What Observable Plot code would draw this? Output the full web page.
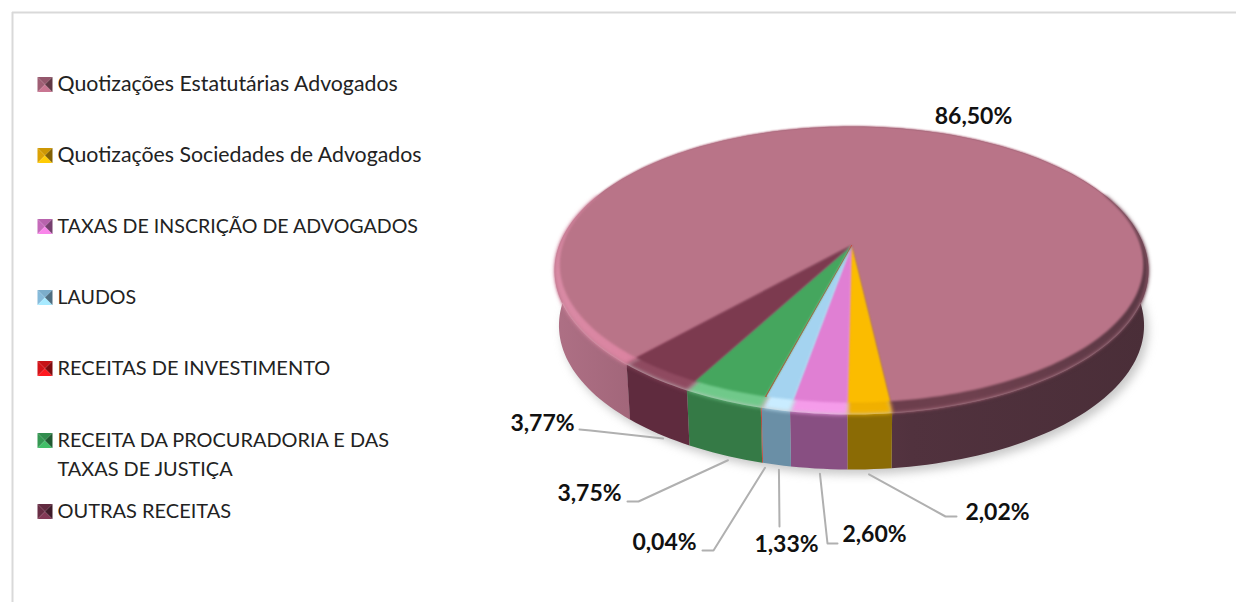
<!DOCTYPE html>
<html lang="pt">
<head>
<meta charset="utf-8">
<title>Receitas</title>
<script src="https://cdn.jsdelivr.net/npm/d3@7"></script>
<script src="https://cdn.jsdelivr.net/npm/@observablehq/plot@0.6"></script>
<style>
  html, body { margin: 0; padding: 0; background: #fff; }
  svg { display: block; }
</style>
</head>
<body>
<div id="chart"></div>
<script>
// Revenue categories and their shares, in percent
const categories = [
  "Quotizações Estatutárias Advogados",
  "Quotizações Sociedades de Advogados",
  "TAXAS DE INSCRIÇÃO DE ADVOGADOS",
  "LAUDOS",
  "RECEITAS DE INVESTIMENTO",
  "RECEITA DA PROCURADORIA E DAS TAXAS DE JUSTIÇA",
  "OUTRAS RECEITAS"
];
const shares = [86.5, 2.02, 2.6, 1.33, 0.04, 3.75, 3.77];
const shareLabels = ["86,50%", "2,02%", "2,60%", "1,33%", "0,04%", "3,75%", "3,77%"];

// Slice colours: top face, rounded rim, side wall
const topColors  = ["#b97488", "#fbbc00", "#e07fd3", "#a4d3f0", "#e8281e", "#45a65e", "#7c3a4f"];
const rimColors  = ["url(#rimRose)", "#f0b000", "#f59cea", "#c9ecff", "#e8281e", "#70c98a", "#8f4a60"];
const sideColors = ["url(#sideRose)", "#8b6b05", "#884f82", "#6a8fa6", "#c0392b", "#357a46", "#5f2b3e"];

// Legend rows: vertical centre of each swatch, the lines of its text, their size and baseline shift
const legendRows = [84, 155, 226, 297, 368, 440, 511];
const legendLines = [
  [categories[0]], [categories[1]], [categories[2]], [categories[3]], [categories[4]],
  ["RECEITA DA PROCURADORIA E DAS", "TAXAS DE JUSTIÇA"], [categories[6]]
];
const legendSizes = [21.3, 21.3, 19.6, 19.6, 20, 19.9, 20];
const legendShift = [-0.5, -0.5, 0.5, 0.5, 0.5, 0.5, 0.5];

// Value labels: text anchor and the elbow of the leader line
const labelSpots = [
  {x: 973, y: 116, elbow: null},
  {x: 997, y: 512, elbow: [[956, 516], [945, 516]]},
  {x: 874, y: 534, elbow: [[837, 543], [827, 543]]},
  {x: 786, y: 544, elbow: [[779, 526]]},
  {x: 664, y: 542, elbow: [[702, 550], [713, 550]]},
  {x: 589, y: 493, elbow: [[627, 501], [638, 501]]},
  {x: 542, y: 423, elbow: [[579, 429], [590, 430]]}
];

// Perspective disc: a turn angle measured from the front of the pie maps to the page
const cx = 851, apexY = 245;
const disc = (R, B, k, dy = 0, scale = 1) => (deg) => {
  const a = deg * Math.PI / 180, v = Math.cos(a), u = Math.sin(a), w = 1 - k * v;
  return {x: cx + scale * R * u / w, y: apexY + dy + B * v / w};
};
const inner = disc(289, 135.4, 0.138);
const outer = disc(292.5, 139.7, 0.1736);
const floor = disc(292.5, 139.7, 0.1736, 55, 0.985);

// Slices run clockwise seen from above: the large one wraps round the back of the pie,
// the rest follow it across the front, right to left
const firstEdge = 6.6;
const slices = shares.map((s, i) => {
  if (i === 0) return {i, a0: firstEdge, a1: firstEdge + s * 3.6, mid: firstEdge + s * 1.8};
  const a1 = firstEdge - 3.6 * d3.sum(shares.slice(1, i));
  const a0 = a1 - s * 3.6;
  return {i, a0, a1, mid: (a0 + a1) / 2};
});

const arcAngles = (a0, a1) => {
  const n = Math.max(2, Math.ceil(Math.abs(a1 - a0) / 1.5));
  return d3.range(n + 1).map((j) => a0 + (a1 - a0) * j / n);
};
const sector = (s, map) => [{x: cx, y: apexY}, ...arcAngles(s.a0, s.a1).map(map)];
const wall = (s) => [...arcAngles(s.a0, s.a1).map(outer), ...arcAngles(s.a0, s.a1).reverse().map(floor)];
const poly = (pts, fill, extra = {}) => Plot.line(pts, {x: "x", y: "y", fill, stroke: "none", curve: "linear", ...extra});

// The rounded rim only catches the eye along the front of the pie; round the back
// the large slice keeps its top colour
const backStart = 112, backEnd = 248;
const large = slices[0];
const rimParts = [
  {a0: large.a0, a1: backStart, fill: rimColors[0]},
  {a0: backEnd, a1: large.a1, fill: rimColors[0]},
  ...slices.slice(1).map((s) => ({a0: s.a0, a1: s.a1, fill: rimColors[s.i]}))
];

// Gradients for the large slice: pale on the left of the wall, dark on the right
const gradients = () => {
  const defs = d3.create("svg:defs");
  const add = (id, stops) => {
    const g = defs.append("linearGradient").attr("id", id).attr("gradientUnits", "userSpaceOnUse")
      .attr("x1", 554).attr("x2", 1149).attr("y1", 0).attr("y2", 0);
    stops.forEach(([o, c]) => g.append("stop").attr("offset", o).attr("stop-color", c));
  };
  add("sideRose", [[0, "#ae7085"], [0.13, "#a2667a"], [0.5, "#5a3644"], [0.6, "#51323e"], [1, "#4a2e38"]]);
  add("rimRose", [[0, "#d98ba5"], [0.12, "#db84a1"], [0.5, "#6a3d4b"], [0.7, "#6e404e"], [1, "#5a3844"]]);
  return defs.node();
};

// Bevelled legend swatch: four triangles meeting at the centre
const swatch = (yc, color) => {
  const x0 = 37, x1 = 52, xm = 44.5, y0 = yc - 7.5, y1 = yc + 7.5;
  const c = d3.color(color);
  const tri = (pts, f) => Plot.line(pts.map(([x, y]) => ({x, y})), {x: "x", y: "y", fill: f, stroke: "none", imageFilter: "blur(0.4px)"});
  return [
    tri([[x0, y0], [x1, y0], [xm, yc]], c.darker(0.35).formatHex()),
    tri([[x0, y0], [x0, y1], [xm, yc]], c.darker(0.15).formatHex()),
    tri([[x0, y1], [x1, y1], [xm, yc]], c.brighter(0.5).formatHex()),
    tri([[x1, y0], [x1, y1], [xm, yc]], c.darker(1.6).formatHex())
  ];
};
const swatchColors = ["#a8637a", "#e8ab05", "#d070c4", "#8cc4e6", "#e0141a", "#38a058", "#6e3048"];

const font = "Lato, Carlito, Calibri, sans-serif";

const legendText = legendLines.flatMap((lines, i) =>
  lines.map((t, j) => ({t, x: 57, y: legendRows[i] + legendShift[i] + j * 29, size: legendSizes[i]})));

// Leader lines start just below the floor of the pie, at each slice's middle
const leaders = slices.slice(1).map((s) => {
  const p = floor(s.mid);
  const anchor = {x: p.x - (p.x - cx) * 0.028, y: p.y + 5};
  return [anchor, ...[...labelSpots[s.i].elbow].reverse().map(([x, y]) => ({x, y}))];
});

const chart = Plot.plot({
  width: 1236, height: 602,
  margin: 0,
  x: {domain: [0, 1236], range: [0, 1236], axis: null},
  y: {domain: [0, 602], range: [0, 602], axis: null},
  style: {background: "#fff", fontFamily: font},
  marks: [
    gradients,
    // Panel border
    Plot.ruleX([12], {y1: 12, y2: 602, stroke: "#d9d9d9", strokeWidth: 2}),
    Plot.ruleY([12], {x1: 12, x2: 1236, stroke: "#d9d9d9", strokeWidth: 2}),

    // Legend
    ...legendRows.flatMap((y, i) => swatch(y, swatchColors[i])),
    Plot.text(legendText, {x: "x", y: "y", text: "t", textAnchor: "start", fontSize: "size", fill: "#222"}),

    // Soft shadow under the pie
    poly(arcAngles(0, 360).map((a) => { const p = floor(a); return {x: p.x + 4, y: p.y + 5}; }), "#9a9a9a",
      {imageFilter: "blur(5px)", fillOpacity: 0.55}),

    // Side walls, then the outer disc with its rounded rim, then the flat top
    ...slices.map((s) => poly(wall(s), sideColors[s.i])),
    poly(sector(large, outer), topColors[0], {imageFilter: "blur(0.8px)"}),
    ...rimParts.map((r) => poly(sector(r, outer), r.fill, {imageFilter: "blur(2px)"})),
    ...slices.map((s) => poly(sector(s, inner), topColors[s.i],
      s.i === 4 ? {stroke: topColors[4], strokeWidth: 0.8} : {imageFilter: "blur(1.2px)"})),

    // Leader lines and value labels
    ...leaders.map((pts) => Plot.line(pts, {x: "x", y: "y", stroke: "#b0b0b0", strokeWidth: 2})),
    Plot.text(labelSpots, {x: "x", y: "y", text: (d, i) => shareLabels[i], fontSize: 23, fontWeight: 700, fill: "#111"})
  ]
});
document.getElementById("chart").append(chart);
</script>
</body>
</html>
